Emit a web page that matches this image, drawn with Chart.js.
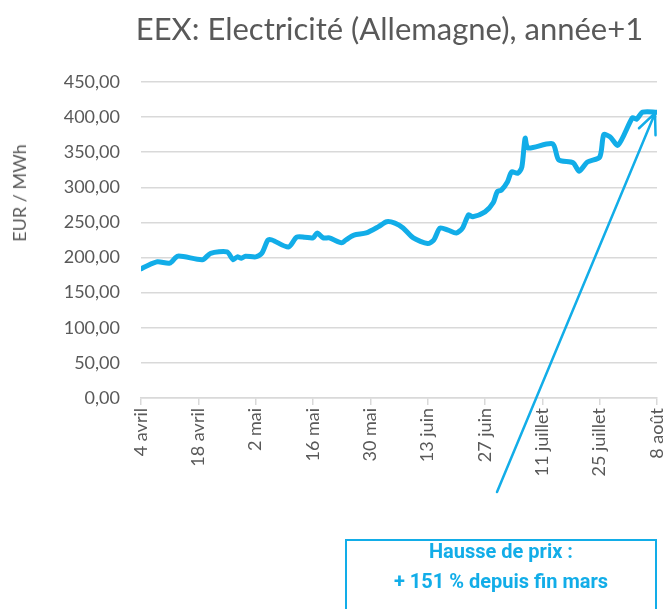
<!DOCTYPE html>
<html>
<head>
<meta charset="utf-8">
<script src="https://cdn.jsdelivr.net/npm/chart.js@4/dist/chart.umd.min.js"></script>
<style>
  html, body { margin: 0; padding: 0; background: #fff; }
  #wrap { position: relative; width: 664px; height: 609px; overflow: hidden; }
  #titre { position: absolute; left: 0; width: 664px; top: 9px; padding-left: 115px; box-sizing: border-box;
    text-align: center; font-family: 'Lato'; font-size: 31px; font-weight: 400; color: #595959; white-space: nowrap; }
  #ytitre { position: absolute; left: 19px; top: 193px; transform: translate(-50%, -50%) rotate(-90deg);
    font-family: 'Lato'; font-size: 18px; font-weight: 400; color: #595959; white-space: nowrap; }
  #boite { position: absolute; left: 345px; top: 539px; width: 312px; height: 90px;
    border: 2px solid #12ADE8; color: #12ADE8; font: 700 20px 'Roboto'; text-align: center; line-height: 30px;
    box-sizing: border-box; }
  #boite div { position: relative; top: -5px; }
</style>
</head>
<body>
<div id="wrap">
  <canvas id="graph" width="664" height="609"></canvas>
  <div id="titre">EEX: Electricité (Allemagne), année+1</div>
  <div id="ytitre">EUR / MWh</div>
  <div id="boite"><div>Hausse de prix :<br>+ 151 % depuis fin mars</div></div>
</div>
<script>
// jours depuis le 4 avril
var jours = [0, 1, 4, 7, 9, 15, 17, 21, 22.5, 23.5, 24.5, 25.5, 28, 29.5, 31, 32, 36, 38, 40, 42,
  43, 44.5, 46, 49, 50, 52, 55, 58, 60, 62, 64, 66.5, 70, 71.5, 73, 75, 77, 78.5, 80, 81,
  84, 86, 87, 88, 89.5, 90.5, 92, 93, 93.8, 94.5, 100.5, 102, 105.5, 107, 109, 112, 113, 114.5, 116.5, 120,
  121, 122.5, 126];
// EUR / MWh
var prix = [184, 187, 194, 192, 202, 197, 206, 208, 197, 201, 199, 202, 201, 206, 225, 225, 215, 229, 229, 228,
  235, 228, 228, 221, 225, 232, 235, 244, 251, 249, 242, 228, 220, 225, 242, 239, 235, 242, 261, 258,
  265, 278, 294, 296, 308, 322, 320, 329, 370, 356, 362, 339, 335, 323, 336, 343, 375, 372, 360, 399,
  397, 407, 407];
var xLabels = ["4 avril", "18 avril", "2 mai", "16 mai", "30 mai", "13 juin", "27 juin", "11 juillet", "25 juillet", "8 août"];
var yLabels = ["0,00", "50,00", "100,00", "150,00", "200,00", "250,00", "300,00", "350,00", "400,00", "450,00"];

var bleu = "#12ADE8";
var gris = "#595959";
var grille = "#d9d9d9";

var points = [];
for (var i = 0; i < jours.length; i++) {
  points.push({ x: jours[i], y: prix[i] });
}

// fleche de l'annotation (du cadre vers le dernier point)
var fleche = {
  id: "fleche",
  afterDraw: function (chart) {
    var ctx = chart.ctx;
    var xs = chart.scales.x, ys = chart.scales.y;
    var x1 = 497, y1 = 492;
    var x2 = xs.getPixelForValue(jours[jours.length - 1]) - 2;
    var y2 = ys.getPixelForValue(prix[prix.length - 1]) + 1;
    var ang = Math.atan2(y2 - y1, x2 - x1);
    ctx.save();
    ctx.strokeStyle = bleu;
    ctx.lineWidth = 2.5;
    ctx.lineCap = "round";
    ctx.beginPath();
    ctx.moveTo(x1, y1);
    ctx.lineTo(x2, y2);
    ctx.moveTo(x2 - 22 * Math.cos(ang - 0.42), y2 - 22 * Math.sin(ang - 0.42));
    ctx.lineTo(x2, y2);
    ctx.lineTo(x2 - 22 * Math.cos(ang + 0.42), y2 - 22 * Math.sin(ang + 0.42));
    ctx.stroke();
    ctx.restore();
  }
};

Chart.defaults.font.family = "'Lato'";
Chart.defaults.color = gris;

new Chart(document.getElementById("graph"), {
  type: "line",
  data: {
    datasets: [{
      data: points,
      borderColor: bleu,
      borderWidth: 5,
      pointRadius: 0,
      tension: 0.25,
      borderCapStyle: "round",
      borderJoinStyle: "round"
    }]
  },
  options: {
    responsive: false,
    animation: false,
    layout: { padding: { left: 0, top: 82, right: 7, bottom: 0 } },
    plugins: { legend: { display: false }, tooltip: { enabled: false } },
    scales: {
      x: {
        type: "linear",
        min: 0,
        max: 126,
        afterFit: function (s) { s.height = 211; s.paddingLeft = 0; s.paddingRight = 0; },
        grid: { drawOnChartArea: false, color: grille, lineWidth: 1.5, tickLength: 7 },
        border: { color: grille, width: 1.5 },
        ticks: {
          stepSize: 14,
          autoSkip: false,
          maxRotation: 90,
          minRotation: 90,
          padding: 3,
          font: { size: 18 },
          callback: function (v, i) { return xLabels[i]; }
        }
      },
      y: {
        min: 0,
        max: 450,
        afterFit: function (s) { s.width = 141; s.paddingTop = 0; s.paddingBottom = 0; },
        grid: { color: grille, lineWidth: 1.5, drawTicks: false },
        border: { display: false },
        ticks: {
          stepSize: 50,
          padding: 21,
          font: { size: 18 },
          callback: function (v, i) { return yLabels[i]; }
        }
      }
    }
  },
  plugins: [fleche]
});
</script>
</body>
</html>
